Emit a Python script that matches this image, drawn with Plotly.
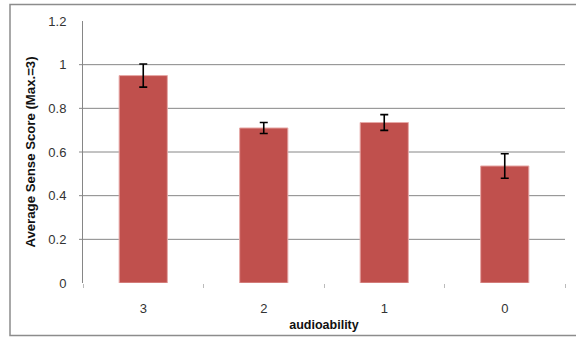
import plotly.graph_objects as go

categories = ["3", "2", "1", "0"]
scores = [0.95, 0.71, 0.735, 0.536]
errors = [0.053, 0.025, 0.036, 0.056]
y_ticks = [0, 0.2, 0.4, 0.6, 0.8, 1.0, 1.2]
y_ticklabels = ["0", "0.2", "0.4", "0.6", "0.8", "1", "1.2"]
grid_values = [0.2, 0.4, 0.6, 0.8, 1.0]

W, H = 576, 337
ML, MR, MT, MB = 83, 11, 21, 54
pw = W - ML - MR
ph = H - MT - MB

fig = go.Figure()
fig.add_trace(go.Bar(
    x=categories, y=scores,
    marker=dict(color="#C0504D", line=dict(color="#E6A9A7", width=1)),
    error_y=dict(type="data", array=errors, color="#000000", thickness=1.6, width=4),
))

shapes = []
for g in grid_values:
    shapes.append(dict(type="line", xref="paper", yref="y", x0=-4 / pw, x1=1, y0=g, y1=g,
                       line=dict(color="#868686", width=1), layer="below"))
# chart frame
shapes.append(dict(type="rect", xref="paper", yref="paper",
                   x0=(10 - ML) / pw, x1=(W + 5 - ML) / pw,
                   y0=-(335.5 - MT - ph) / ph, y1=1 + (MT - 4.5) / ph,
                   line=dict(color="#8C8C8C", width=1.5), layer="below"))

fig.update_layout(
    width=W, height=H,
    margin=dict(l=ML, r=MR, t=MT, b=MB, autoexpand=False),
    paper_bgcolor="white", plot_bgcolor="white",
    bargap=0.6,
    showlegend=False,
    shapes=shapes,
    font=dict(family="Liberation Sans, Arial, sans-serif", color="#222222"),
    xaxis=dict(
        type="category", automargin=False,
        showline=False, showgrid=False, zeroline=False,
        ticks="outside", tickson="boundaries", ticklen=4, tickcolor="#BBBBBB", tickwidth=1,
        tickfont=dict(size=13, color="#333333"),
        ticklabelstandoff=16,
        title=dict(text="<b>audioability</b>", font=dict(size=12.5, color="#111111"), standoff=5),
    ),
    yaxis=dict(
        range=[0, 1.2], automargin=False,
        tickvals=y_ticks, ticktext=y_ticklabels,
        showgrid=False, zeroline=False,
        showline=True, linecolor="#868686", linewidth=1,
        ticks="", tickfont=dict(size=13, color="#333333"),
        ticklabelstandoff=13,
        title=dict(text="<b>Average Sense Score (Max.=3)</b>", font=dict(size=13.2, color="#111111"), standoff=9),
    ),
)

fig.write_html("out.html", config={"displayModeBar": False},
               post_script="document.body.style.margin='0';document.body.style.overflow='hidden';")
